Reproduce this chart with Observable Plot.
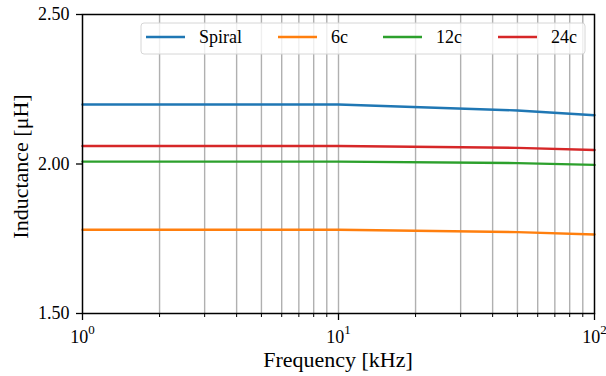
<!DOCTYPE html>
<html>
<head>
<meta charset="utf-8">
<script src="https://cdn.jsdelivr.net/npm/d3@7"></script>
<script src="https://cdn.jsdelivr.net/npm/@observablehq/plot@0.6"></script>
<style>
  html, body { margin: 0; padding: 0; background: #fff; }
  svg text { font-family: "Liberation Serif", "Times New Roman", serif !important; }
</style>
</head>
<body>
<div id="chart"></div>
<script>
// Frequencies in kHz
const freq = [1, 10, 50, 100];
// Inductance in µH
const spiral = [2.199, 2.199, 2.179, 2.163];
const c6 = [1.780, 1.780, 1.772, 1.764];
const c12 = [2.008, 2.008, 2.003, 1.997];
const c24 = [2.060, 2.060, 2.054, 2.047];

const seriesNames = ["Spiral", "6c", "12c", "24c"];
const seriesValues = [spiral, c6, c12, c24];
const colors = ["#1f77b4", "#ff7f0e", "#2ca02c", "#d62728"];

const yTicks = [1.5, 2.0, 2.5];
const xMajor = [1, 10, 100];
const xMinor = [2, 3, 4, 5, 6, 7, 8, 9, 20, 30, 40, 50, 60, 70, 80, 90];
const gridX = [2, 3, 4, 5, 6, 7, 8, 9, 10, 20, 30, 40, 50, 60, 70, 80, 90];

const data = seriesNames.flatMap((name, i) =>
  freq.map((f, j) => ({series: name, f, v: seriesValues[i][j]})));

const width = 606, height = 376;
const mL = 82, mR = 12, mT = 14, mB = 63;
const serif = '"Liberation Serif", "Times New Roman", serif';

const chart = Plot.plot({
  width, height,
  marginLeft: mL, marginRight: mR, marginTop: mT, marginBottom: mB,
  style: {fontFamily: serif, fontSize: "18px", color: "#000", background: "#fff"},
  x: {type: "log", domain: [1, 100], label: null},
  y: {domain: [1.5, 2.5], label: null},
  color: {domain: seriesNames, range: colors},
  marks: [
    Plot.ruleX(gridX, {stroke: "#b0b0b0", strokeWidth: 1.4}),
    Plot.line(data, {x: "f", y: "v", z: "series", stroke: "series", strokeWidth: 2.4}),
    Plot.frame({stroke: "#000", strokeWidth: 1.5}),
    Plot.axisY({ticks: yTicks, tickFormat: d3.format(".2f"), tickSize: 6, tickPadding: 7, strokeWidth: 1.3, label: null, fontSize: 18, fontFamily: serif}),
    Plot.axisX({ticks: xMinor, tickFormat: () => "", tickSize: 4, strokeWidth: 1, label: null}),
    Plot.axisX({ticks: xMajor, tickFormat: d => String(Math.round(Math.log10(d))), tickSize: 7, tickPadding: 10, strokeWidth: 1.3, label: null, fontSize: 18, fontFamily: serif})
  ]
});

document.getElementById("chart").appendChild(chart);
const svg = d3.select(chart);

// Superscript exponents on x tick labels
svg.selectAll('g[aria-label="x-axis tick label"] text').each(function() {
  const t = d3.select(this);
  const e = t.text().trim();
  if (e === "") return;
  t.text("10");
  t.append("tspan").attr("dy", "-9").attr("font-size", "13px").text(e);
});

// Axis titles
svg.append("text")
  .attr("x", (mL + width - mR) / 2).attr("y", 367)
  .attr("text-anchor", "middle").attr("font-size", "22px").attr("font-family", serif).attr("fill", "#000")
  .text("Frequency [kHz]");
svg.append("text")
  .attr("transform", `translate(28,${(mT + height - mB) / 2 + 3}) rotate(-90)`)
  .attr("text-anchor", "middle").attr("font-size", "22px").attr("font-family", serif).attr("fill", "#000")
  .text("Inductance [μH]");

// Legend
const lg = svg.append("g").attr("text-anchor", "start");
lg.append("rect")
  .attr("x", 141).attr("y", 23).attr("width", 444).attr("height", 31)
  .attr("rx", 3).attr("fill", "#fff").attr("fill-opacity", 0.8)
  .attr("stroke", "#d6d6d6").attr("stroke-width", 1);
const lineX = [146, 278, 383, 498];
seriesNames.forEach((name, i) => {
  lg.append("line").attr("x1", lineX[i]).attr("x2", lineX[i] + 39)
    .attr("y1", 37).attr("y2", 37).attr("stroke", colors[i]).attr("stroke-width", 2.4);
  lg.append("text").attr("x", lineX[i] + 53).attr("y", 43)
    .attr("text-anchor", "start")
    .attr("font-size", "18px").attr("font-family", serif).attr("fill", "#000").text(name);
});
</script>
</body>
</html>
